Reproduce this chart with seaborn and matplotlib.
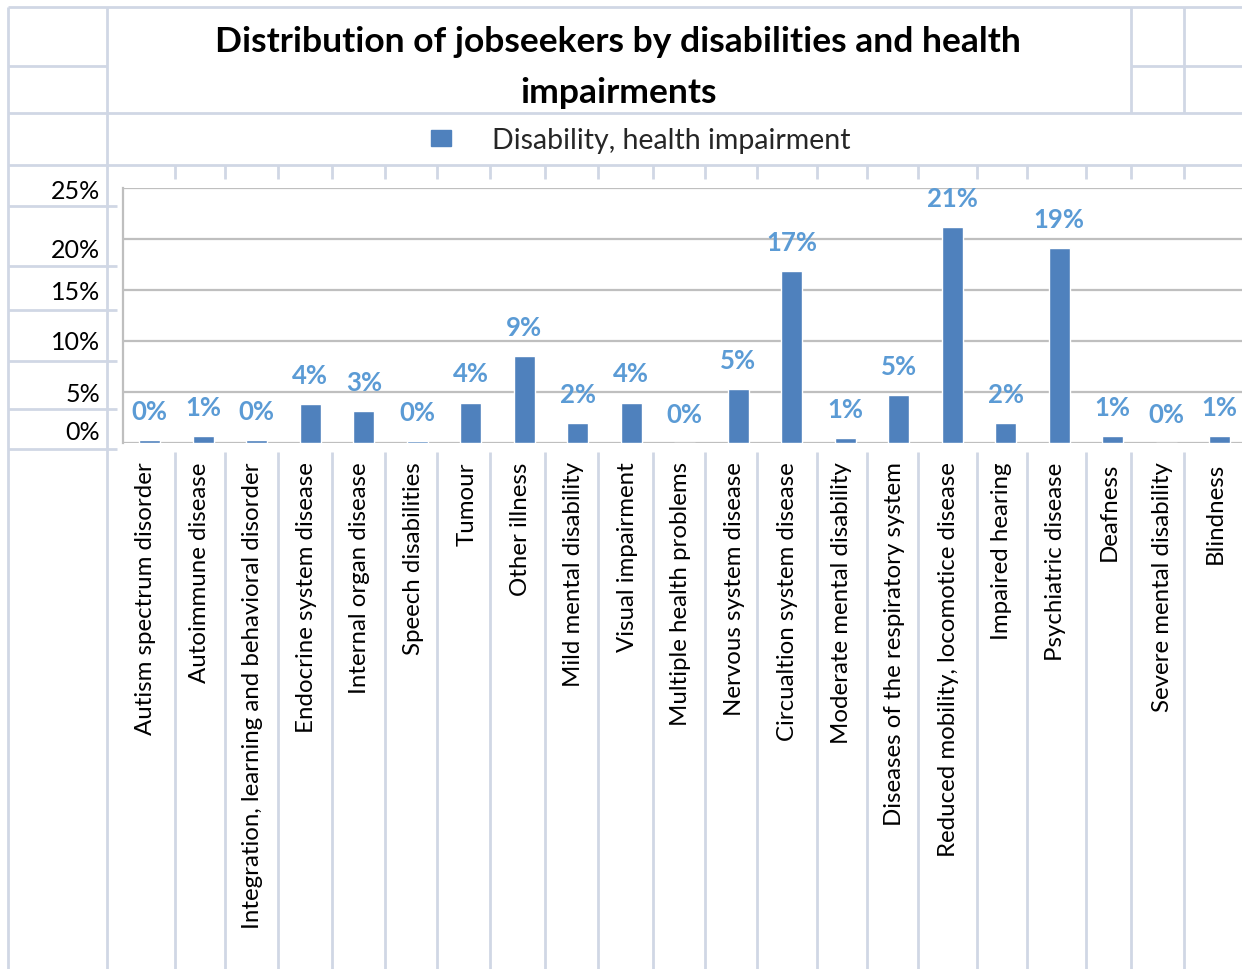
import matplotlib
matplotlib.use("Agg")
import matplotlib.pyplot as plt
import matplotlib.transforms as mtransforms
from matplotlib.patches import Patch
import seaborn as sns

# ---- data -------------------------------------------------------------
categories = [
    "Autism spectrum disorder",
    "Autoimmune disease",
    "Integration, learning and behavioral disorder",
    "Endocrine system disease",
    "Internal organ disease",
    "Speech disabilities",
    "Tumour",
    "Other illness",
    "Mild mental disability",
    "Visual impairment",
    "Multiple health problems",
    "Nervous system disease",
    "Circualtion system disease",
    "Moderate mental disability",
    "Diseases of the respiratory system",
    "Reduced mobility, locomotice disease",
    "Impaired hearing",
    "Psychiatric disease",
    "Deafness",
    "Severe mental disability",
    "Blindness",
]
share_pct = [0.3, 0.7, 0.3, 3.85, 3.2, 0.2, 4.0, 8.6, 2.0, 4.0, 0.05,
             5.3, 16.9, 0.55, 4.7, 21.2, 2.0, 19.1, 0.7, 0.05, 0.7]
y_ticks = [0, 5, 10, 15, 20, 25]
y_tick_labels = ["0%", "5%", "10%", "15%", "20%", "25%"]
series_name = "Disability, health impairment"
title_lines = ["Distribution of jobseekers by disabilities and health",
               "impairments"]

# ---- style ------------------------------------------------------------
sns.set_style("white")
plt.rcParams["font.family"] = ["Lato", "DejaVu Sans"]

BAR = "#4F81BD"
LABEL = "#5B9BD5"
CELL = "#D0D7E5"
GRID = "#BFBFBF"

W, H = 1242, 970
fig = plt.figure(figsize=(W / 100, H / 100), dpi=100)
fig.patch.set_facecolor("white")

# ---- worksheet cell lines behind the chart ------------------------------
bg = fig.add_axes([0, 0, 1, 1], zorder=0)
bg.set_xlim(0, W)
bg.set_ylim(H, 0)
bg.axis("off")
lw_cell = 2.0

# header rows
bg.hlines([8, 114, 166], 8, W, color=CELL, lw=lw_cell)
bg.hlines(67, 8, 107, color=CELL, lw=lw_cell)
bg.hlines(67, 1131, W, color=CELL, lw=lw_cell)
bg.vlines([8, 107], 8, H, color=CELL, lw=lw_cell)
bg.vlines([1131, 1184], 8, 114, color=CELL, lw=lw_cell)
# rows of the label column left of the chart
bg.hlines([207, 267, 311, 362, 410, 450], 8, 117, color=CELL, lw=lw_cell)
# column boundaries
col_x = [175, 225, 278, 332, 385, 437, 490, 545, 598, 653, 705, 757, 817,
         867, 918, 977, 1027, 1086, 1131, 1184]
bg.vlines(col_x, 166, 180, color=CELL, lw=lw_cell)
bg.vlines(col_x, 453, H, color=CELL, lw=lw_cell)

# ---- chart ------------------------------------------------------------
left, right, top, bottom = 123, W, 189.3, 444.3
ax = fig.add_axes([left / W, 1 - bottom / H, (right - left) / W,
                   (bottom - top) / H], zorder=2)
ax.set_facecolor("white")

sns.barplot(x=categories, y=share_pct, color=BAR, saturation=1,
            width=0.39, ax=ax, zorder=3)

step = (right - left) / 53.5
ax.set_xlim(-0.5, -0.5 + step)
ax.set_ylim(0, 25)
ax.set_yticks(y_ticks)
ax.set_yticklabels([])
ax.yaxis.grid(True, color=GRID, lw=1.6, zorder=0)
ax.set_axisbelow(True)
ax.tick_params(axis="y", length=0)
ax.tick_params(axis="x", length=0, pad=13, labelsize=17.3)
for side in ["top", "right", "bottom"]:
    ax.spines[side].set_visible(False)
ax.spines["left"].set_color(GRID)
ax.spines["left"].set_linewidth(1.6)
ax.set_xlabel("")
ax.set_ylabel("")

shift = mtransforms.ScaledTranslation(-4 / 100, 0, fig.dpi_scale_trans)
for lab in ax.get_xticklabels():
    lab.set_rotation(90)
    lab.set_ha("center")
    lab.set_va("top")
    lab.set_color("black")
    lab.set_transform(lab.get_transform() + shift)

# value labels above bars
for i, v in enumerate(share_pct):
    ax.annotate(f"{v:.0f}%", (i, v), xytext=(0, 29),
                textcoords="offset pixels", ha="center", va="center",
                fontsize=18.5, color=LABEL, fontweight="bold",
                annotation_clip=False, zorder=5)

# percentage labels in the worksheet column
label_y = [433, 394, 343, 293, 250, 192]
for txt, yy in zip(y_tick_labels, label_y):
    fig.text(100 / W, 1 - yy / H, txt, ha="right", va="center",
             fontsize=18, color="black")

# title
fig.text(617.5 / W, 1 - 42 / H, title_lines[0], ha="center", va="center",
         fontsize=25.5, fontweight="bold", color="black")
fig.text(618 / W, 1 - 93 / H, title_lines[1], ha="center", va="center",
         fontsize=25.5, fontweight="bold", color="black")

# legend
fs_leg = 20.5
em = fs_leg * 100 / 72
fig.legend(handles=[Patch(facecolor=BAR, edgecolor=BAR)],
           labels=[series_name], loc="center",
           bbox_to_anchor=(641 / W, 1 - 141 / H), frameon=False,
           fontsize=fs_leg, handlelength=20 / em, handleheight=13 / em,
           handletextpad=41 / em, borderpad=0)

fig.savefig("out.png", dpi=100)
